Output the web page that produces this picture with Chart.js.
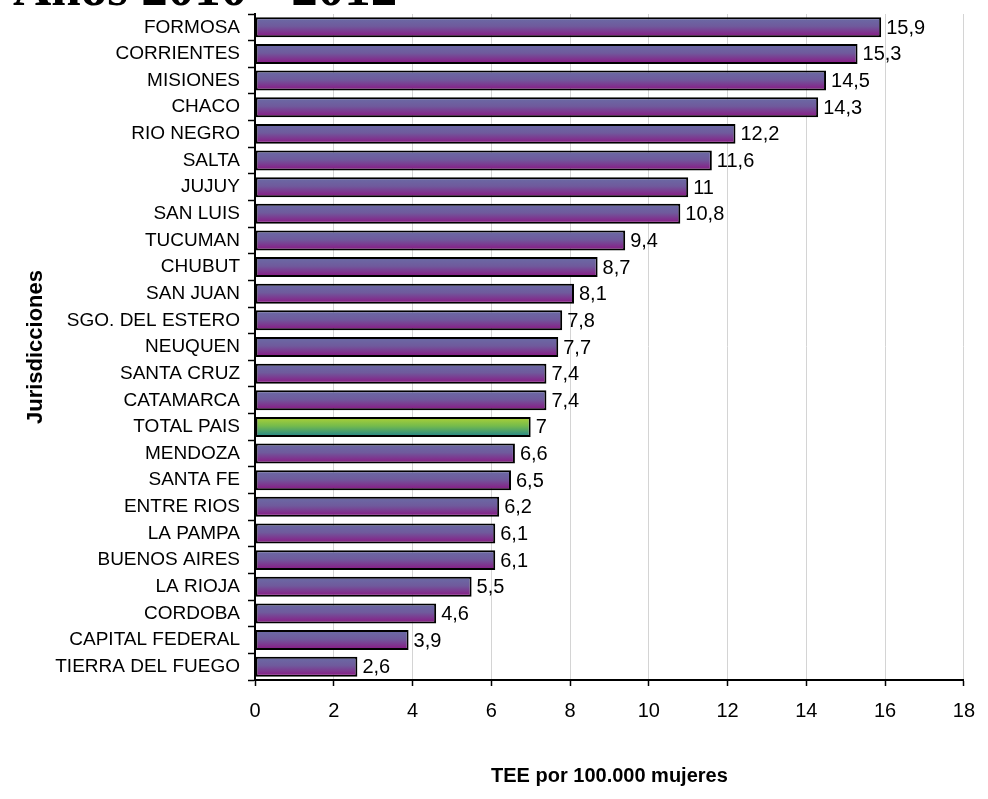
<!DOCTYPE html>
<html>
<head>
<meta charset="utf-8">
<script src="https://cdn.jsdelivr.net/npm/chart.js@4"></script>
<style>
  html, body { margin: 0; padding: 0; background: #fff; }
  #wrap { width: 988px; height: 799px; position: relative; }
</style>
</head>
<body>
<div id="wrap"><canvas id="c" width="988" height="799"></canvas></div>
<script>
const titleText = 'Años 2010 - 2012';
const categories = ['FORMOSA','CORRIENTES','MISIONES','CHACO','RIO NEGRO','SALTA','JUJUY','SAN LUIS','TUCUMAN','CHUBUT','SAN JUAN','SGO. DEL ESTERO','NEUQUEN','SANTA CRUZ','CATAMARCA','TOTAL PAIS','MENDOZA','SANTA FE','ENTRE RIOS','LA PAMPA','BUENOS AIRES','LA RIOJA','CORDOBA','CAPITAL FEDERAL','TIERRA DEL FUEGO'];
const values = [15.9,15.3,14.5,14.3,12.2,11.6,11,10.8,9.4,8.7,8.1,7.8,7.7,7.4,7.4,7,6.6,6.5,6.2,6.1,6.1,5.5,4.6,3.9,2.6];
const highlight = 'TOTAL PAIS';
const xTicks = [0,2,4,6,8,10,12,14,16,18];
const xTitle = 'TEE por 100.000 mujeres';
const yTitle = 'Jurisdicciones';

const BAR_PCT = 0.75;

function barGradient(ctx) {
  const chart = ctx.chart;
  const ys = chart.scales && chart.scales.y;
  const isHi = categories[ctx.dataIndex] === highlight;
  if (!chart.chartArea || !ys) return isHi ? '#6fb24a' : '#74488f';
  const yc = ys.getPixelForValue(ctx.dataIndex);
  const h = (chart.chartArea.bottom - chart.chartArea.top) / categories.length * BAR_PCT;
  const g = chart.ctx.createLinearGradient(0, yc - h / 2, 0, yc + h / 2);
  if (isHi) {
    g.addColorStop(0, '#b0d236');
    g.addColorStop(0.45, '#74bb4c');
    g.addColorStop(1, '#1f8390');
  } else {
    g.addColorStop(0, '#6a6ca6');
    g.addColorStop(0.45, '#6f5a9c');
    g.addColorStop(1, '#8b1483');
  }
  return g;
}

const titlePlugin = {
  id: 'topTitle',
  afterDraw(chart) {
    const c = chart.ctx;
    c.save();
    c.font = 'bold 53px "Liberation Serif"';
    c.fillStyle = '#000';
    c.textAlign = 'left';
    c.textBaseline = 'alphabetic';
    c.fillText(titleText, 13, 5);
    c.restore();
  }
};

const valueLabels = {
  id: 'valueLabels',
  afterDatasetsDraw(chart) {
    const c = chart.ctx;
    const meta = chart.getDatasetMeta(0);
    c.save();
    c.font = '20px "Liberation Sans"';
    c.fillStyle = '#000';
    c.textAlign = 'left';
    c.textBaseline = 'middle';
    meta.data.forEach((bar, i) => {
      c.fillText(String(values[i]).replace('.', ','), bar.x + 5, bar.y + 1);
    });
    c.restore();
  }
};

new Chart(document.getElementById('c'), {
  type: 'bar',
  data: {
    labels: categories,
    datasets: [{
      data: values,
      backgroundColor: barGradient,
      borderColor: '#000',
      borderWidth: 2,
      borderSkipped: false,
      barPercentage: BAR_PCT,
      categoryPercentage: 1.0
    }]
  },
  options: {
    indexAxis: 'y',
    responsive: false,
    animation: false,
    layout: { padding: { top: 14, right: 22, left: 0, bottom: 0 } },
    plugins: {
      legend: { display: false },
      tooltip: { enabled: false }
    },
    scales: {
      x: {
        type: 'linear',
        min: 0,
        max: 18,
        afterBuildTicks(scale) { scale.ticks = xTicks.map(v => ({ value: v })); },
        afterFit(scale) { scale.height = 119; },
        grid: {
          color: '#d4d4d4',
          lineWidth: 1,
          tickColor: '#000',
          tickLength: 6,
          tickWidth: 1.5
        },
        border: { color: '#000', width: 2 },
        ticks: {
          color: '#000',
          font: { family: 'Liberation Sans', size: 20 },
          padding: 13,
          maxRotation: 0
        },
        title: {
          display: true,
          text: xTitle,
          color: '#000',
          font: { family: 'Liberation Sans', size: 20, weight: 'bold' },
          padding: { top: 0, bottom: 11 }
        }
      },
      y: {
        type: 'category',
        afterFit(scale) {
          scale.width = 255;
          scale.paddingTop = 0;
          scale.paddingBottom = 0;
        },
        grid: {
          drawOnChartArea: false,
          offset: true,
          color: '#000',
          tickColor: '#000',
          tickLength: 7,
          tickWidth: 1.5
        },
        border: { color: '#000', width: 2 },
        ticks: {
          color: '#000',
          font: { family: 'Liberation Sans', size: 19 },
          padding: 8,
          autoSkip: false
        },
        title: {
          display: true,
          text: yTitle,
          color: '#000',
          font: { family: 'Liberation Sans', size: 22, weight: 'bold' },
          padding: { top: 23, bottom: 0 }
        }
      }
    }
  },
  plugins: [titlePlugin, valueLabels]
});
</script>
</body>
</html>
